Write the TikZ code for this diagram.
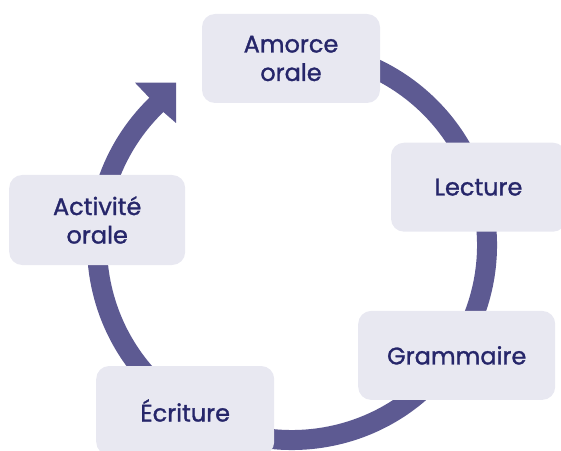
\documentclass[tikz,border=0pt]{standalone}
\usepackage{fontspec}
\newfontfamily\lblfont{Poppins}[FakeBold=1.2]
\definecolor{ringc}{HTML}{5D5A92}
\definecolor{boxc}{HTML}{E8E8F1}
\definecolor{txtc}{HTML}{26266A}
\tikzset{
  stage/.style={fill=boxc, rounded corners=13pt, inner sep=0pt, align=center,
    text=txtc, font=\lblfont\fontsize{24}{28.5}\selectfont},
  ring/.style={draw=ringc, line width=20pt, line cap=butt},
}
\begin{document}
\begin{tikzpicture}[x=1pt,y=1pt]
\useasboundingbox (0,0) rectangle (561,450);
\coordinate (c) at (292,205);
% cycle ring
\draw[ring] ([shift={(100:195)}]c) arc[start angle=100, end angle=-226.5, radius=195];
% arrowhead
\fill[ringc] (176,367.3) -- (135,367.3) -- (146.7,355) -- (163,338.3) -- (176,327) -- cycle;
% stages
\node[stage, minimum width=178pt, minimum height=89pt] (amorce) at (291,391.5) {Amorce\\orale};
\node[stage, minimum width=175pt, minimum height=89pt] (lecture) at (478.5,262.8) {Lecture};
\node[stage, minimum width=197pt, minimum height=89pt] (grammaire) at (456.7,94.6) {Grammaire};
\node[stage, minimum width=178pt, minimum height=89pt] (ecriture) at (185.2,39.5) {Écriture};
\node[stage, minimum width=176pt, minimum height=90pt] (activite) at (97.2,230) {Activité\\orale};
\end{tikzpicture}
\end{document}
